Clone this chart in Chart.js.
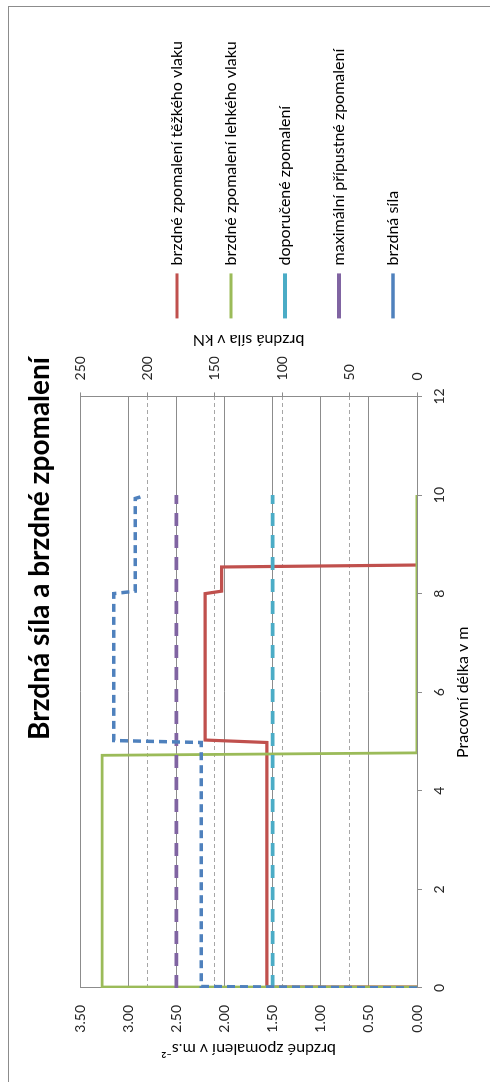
<!DOCTYPE html>
<html>
<head>
<meta charset="utf-8">
<script src="https://cdn.jsdelivr.net/npm/chart.js@4.4.1/dist/chart.umd.min.js"></script>
<style>
  html, body { margin: 0; padding: 0; background: #fff; overflow: hidden; }
  /* chart is drawn landscape and turned a quarter to the left */
  #wrap { position: absolute; left: 0; top: 0; width: 1082px; height: 490px;
          transform-origin: 0 0; transform: translateY(1082px) rotate(-90deg); }
  #frame { position: absolute; left: -5px; top: 8px; width: 1081px; height: 500px;
           box-sizing: border-box; border: 1px solid #8c8c8c; }
  #c { position: absolute; left: 0; top: 0; }
</style>
</head>
<body>
<div id="wrap">
  <div id="frame"></div>
  <canvas id="c" width="1082" height="490"></canvas>
</div>
<script>
// data
var chartTitle = "Brzdná síla a brzdné zpomalení";
var xTitle = "Pracovní délka v m";
var leftTitle = "brzdné zpomalení v m.s⁻²";
var rightTitle = "brzdná síla v kN";
var seriesNames = ["brzdné zpomalení těžkého vlaku", "brzdné zpomalení lehkého vlaku",
    "doporučené zpomalení", "maximální přípustné zpomalení", "brzdná síla"];

var heavyX = [0, 0.02, 4.98, 5.03, 8.0, 8.05, 8.54, 8.58];
var heavyY = [0, 1.56, 1.56, 2.2, 2.2, 2.03, 2.03, 0];
var lightX = [0, 0.02, 4.72, 4.77, 10];
var lightY = [0, 3.27, 3.27, 0, 0];
var recX = [0, 10];
var recY = [1.5, 1.5];
var maxX = [0, 10];
var maxY = [2.5, 2.5];
var forceX = [0, 0.03, 4.98, 5.02, 8.0, 8.05, 9.93, 9.98];
var forceY = [0, 160, 160, 225, 225, 209, 209, 203];

function pts(xs, ys) {
    return xs.map(function(x, i) { return { x: x, y: ys[i] }; });
}

var FONT = "Lato, 'Open Sans', sans-serif";
Chart.defaults.font.family = FONT;
Chart.defaults.font.size = 14;
Chart.defaults.color = "#262626";

var gridGray = "#8c8c8c";

// right axis title reads bottom-to-top like in Excel
var rightTitlePlugin = {
    id: "rightTitle",
    afterDraw: function(chart) {
        var s = chart.scales.y2;
        var ctx = chart.ctx;
        ctx.save();
        ctx.translate(s.left + 56, (s.top + s.bottom) / 2);
        ctx.rotate(-Math.PI / 2);
        ctx.font = "16px " + FONT;
        ctx.fillStyle = "#000";
        ctx.textAlign = "center";
        ctx.textBaseline = "middle";
        ctx.fillText(rightTitle, 0, 0);
        ctx.restore();
    }
};

function line(name, xs, ys, color, dash, width, axis, order) {
    return {
        label: name,
        data: pts(xs, ys),
        borderColor: color,
        backgroundColor: color,
        borderWidth: width,
        borderDash: dash,
        pointRadius: 0,
        fill: false,
        tension: 0,
        yAxisID: axis,
        order: order
    };
}

var ctx = document.getElementById("c");
var myChart = new Chart(ctx, {
    type: "line",
    data: {
        datasets: [
            line(seriesNames[0], heavyX, heavyY, "#C0504D", [], 3.2, "y", 5),
            line(seriesNames[1], lightX, lightY, "#9BBB59", [], 2.8, "y", 4),
            line(seriesNames[2], recX, recY, "#4BACC6", [13, 9], 3.8, "y", 3),
            line(seriesNames[3], maxX, maxY, "#8064A2", [13, 9], 3.8, "y", 2),
            line(seriesNames[4], forceX, forceY, "#4F81BD", [8, 5], 3.5, "y2", 1)
        ]
    },
    options: {
        responsive: false,
        animation: false,
        layout: { padding: { left: 16, right: 31, top: 10, bottom: 15 } },
        scales: {
            x: {
                type: "linear", min: 0, max: 12,
                ticks: { stepSize: 2, padding: 8.6 },
                grid: { drawOnChartArea: false, tickLength: 5, color: gridGray },
                border: { color: gridGray },
                title: { display: true, text: xTitle, color: "#000", font: { size: 16 }, padding: { top: 4, bottom: 2.4 } },
                afterFit: function(s) { s.height = 58; }
            },
            y: {
                position: "left", min: 0, max: 3.5,
                ticks: { stepSize: 0.5, padding: 17, callback: function(v) { return v.toFixed(2); } },
                grid: { color: gridGray, drawTicks: false },
                border: { color: gridGray },
                title: { display: true, text: leftTitle, color: "#000", font: { size: 16 }, padding: { top: 6.8, bottom: 4 } },
                afterFit: function(s) { s.width = 78; }
            },
            y2: {
                position: "right", min: 0, max: 250,
                ticks: { stepSize: 50, padding: 12 },
                grid: {
                    tickLength: 4, tickColor: gridGray, tickBorderDash: [],
                    color: function(c) {
                        return (c.tick && (c.tick.value === 0 || c.tick.value === 250)) ? "rgba(0,0,0,0)" : "#a6a6a6";
                    }
                },
                border: { color: gridGray, dash: [4, 3] },
                afterFit: function(s) { s.width = 40; }
            }
        },
        plugins: {
            title: {
                display: true, text: chartTitle, color: "#000",
                font: { size: 28, weight: "bold" },
                padding: { top: 13.2, bottom: 23.2 }
            },
            legend: {
                position: "right", align: "start", maxWidth: 420,
                title: { display: true, text: "", font: { size: 12 }, padding: { top: 106.6, bottom: 0 } },
                labels: {
                    usePointStyle: true, pointStyle: "line", pointStyleWidth: 45,
                    padding: 38, color: "#000", font: { size: 16 },
                    sort: function(a, b) { return a.datasetIndex - b.datasetIndex; }
                }
            },
            tooltip: { enabled: false }
        }
    },
    plugins: [rightTitlePlugin]
});
</script>
</body>
</html>
